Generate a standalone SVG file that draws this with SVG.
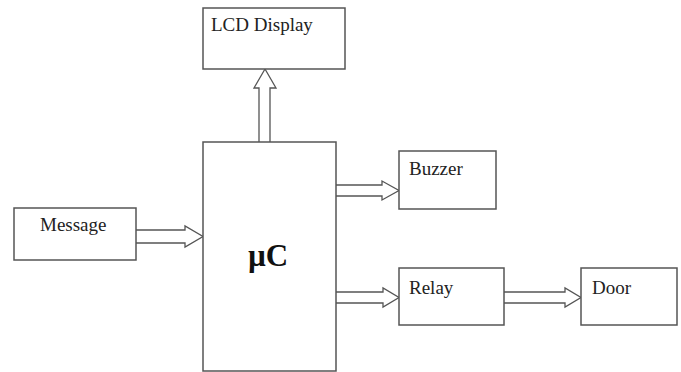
<svg xmlns="http://www.w3.org/2000/svg" width="681" height="372" viewBox="0 0 681 372">
<style>
.box{fill:#fff;stroke:#555;stroke-width:1.5}
.arr{fill:#fff;stroke:#555;stroke-width:1.3;stroke-linejoin:miter}
.t{font-family:"Liberation Serif","Times New Roman",serif;font-size:19px;fill:#222}
.b{font-family:"Liberation Serif","Times New Roman",serif;font-size:31px;font-weight:bold;fill:#111}
</style>
<rect width="681" height="372" fill="#fff"/>
<g id="connectors">
<path class="arr" d="M259,142 V88 H254 L265,69 L276,88 H270 V142"/>
<path class="arr" d="M136,230 H185 V226 L203,236.5 L185,247 V243 H136"/>
<path class="arr" d="M335,185 H382 V181 L399,190.5 L382,200 V196 H335"/>
<path class="arr" d="M335,292 H383 V288 L399,297.5 L383,307 V303 H335"/>
<path class="arr" d="M504,292 H565 V288 L581,297.5 L565,307 V303 H504"/>
</g>
<g id="lcd"><rect class="box" x="203" y="8" width="142" height="61"/><text class="t" x="211" y="31">LCD Display</text></g>
<g id="uc"><rect class="box" x="203" y="142" width="133" height="229"/><text class="b" x="248" y="266">µC</text></g>
<g id="message"><rect class="box" x="14" y="208" width="122" height="52"/><text class="t" x="40" y="231">Message</text></g>
<g id="buzzer"><rect class="box" x="399" y="151" width="97" height="58"/><text class="t" x="409" y="175">Buzzer</text></g>
<g id="relay"><rect class="box" x="399" y="268" width="105" height="57"/><text class="t" x="409" y="294">Relay</text></g>
<g id="door"><rect class="box" x="581" y="268" width="96" height="57"/><text class="t" x="592" y="294">Door</text></g>
</svg>
